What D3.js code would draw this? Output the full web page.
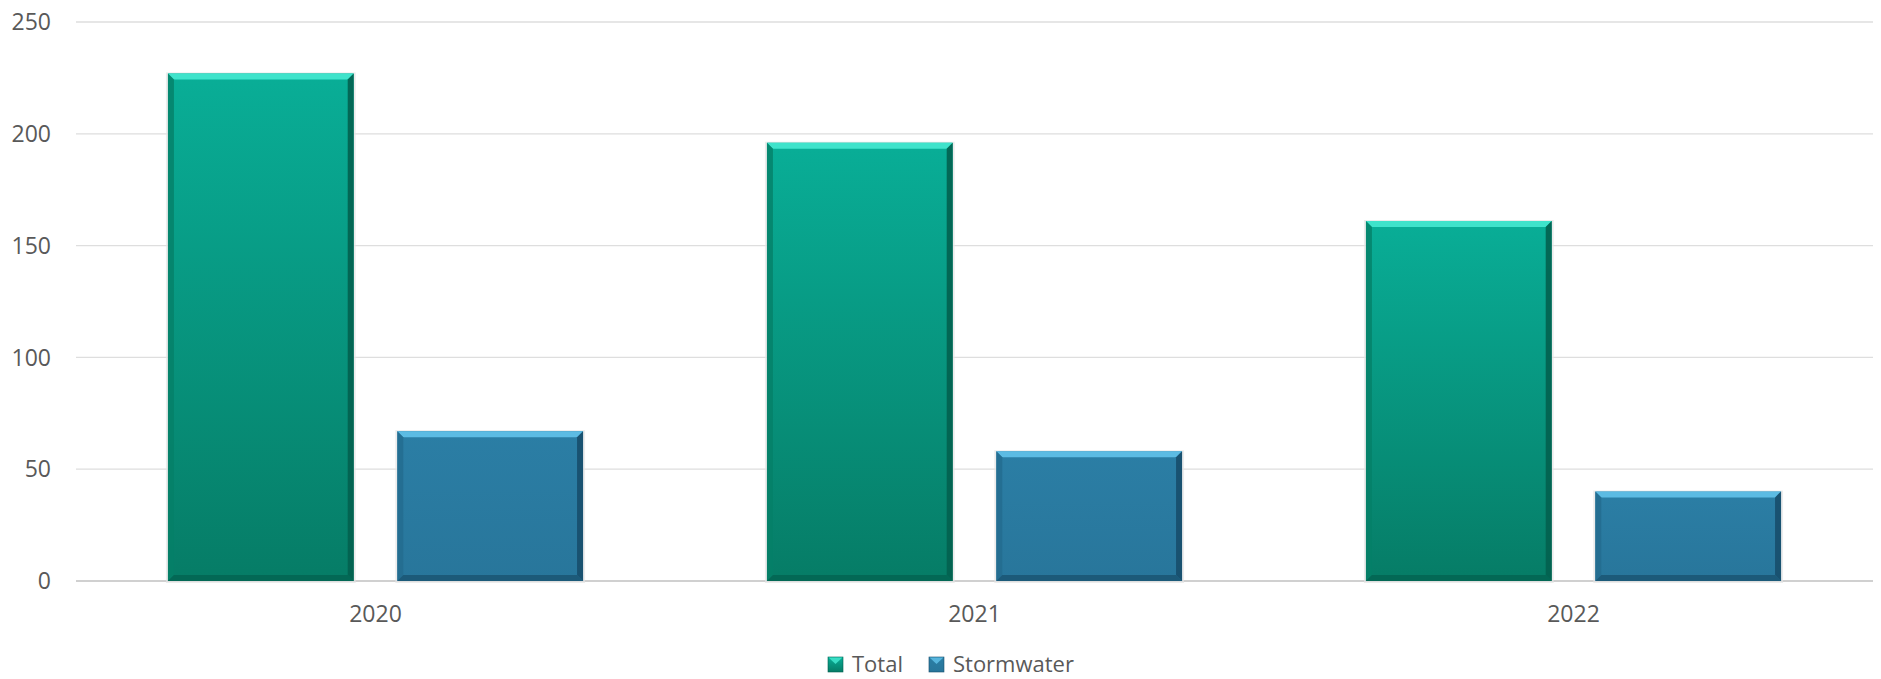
<!DOCTYPE html>
<html>
<head>
<meta charset="utf-8">
<script src="https://cdn.jsdelivr.net/npm/d3@7"></script>
<style>
  body { margin: 0; background: #fff; }
  text { font-family: "Open Sans", "Noto Sans", sans-serif; fill: #595959; }
</style>
</head>
<body>
<div id="chart"></div>
<script>
// data
const years = ["2020", "2021", "2022"];
const seriesNames = ["Total", "Stormwater"];
const totalValues = [227, 196, 161];
const stormwaterValues = [67, 58, 40];
const yTicks = [0, 50, 100, 150, 200, 250];

const WIDTH = 1881, HEIGHT = 679;
const MARGIN = { LEFT: 76, RIGHT: 8, TOP: 22, BOTTOM: 98 };

const rows = years.map((yr, i) => ({ year: yr, values: [totalValues[i], stormwaterValues[i]] }));

// colors for each series: gradient top/bottom, bevel light, bevel dark
const palette = {
    Total: { top: "#09ae97", bottom: "#067c66", light: "#3fe3cb", side: "#058068", dark: "#03604f" },
    Stormwater: { top: "#2b7ea5", bottom: "#28769b", light: "#5cbbe3", side: "#236b8f", dark: "#174e6b" }
};

const svg = d3.select("#chart").append("svg")
    .attr("width", WIDTH)
    .attr("height", HEIGHT);

const defs = svg.append("defs");
seriesNames.forEach(s => {
    const g = defs.append("linearGradient")
        .attr("id", "grad-" + s)
        .attr("x1", 0).attr("y1", 0).attr("x2", 0).attr("y2", 1);
    g.append("stop").attr("offset", "0%").attr("stop-color", palette[s].top);
    g.append("stop").attr("offset", "100%").attr("stop-color", palette[s].bottom);
});

const x0 = d3.scaleBand()
    .domain(years)
    .range([MARGIN.LEFT, WIDTH - MARGIN.RIGHT])
    .paddingInner(0.307)
    .paddingOuter(0.1535);

const x1 = d3.scaleBand()
    .domain(seriesNames)
    .range([0, x0.bandwidth()])
    .paddingInner(0.19)
    .paddingOuter(0);

const y = d3.scaleLinear()
    .domain([0, 250])
    .range([HEIGHT - MARGIN.BOTTOM, MARGIN.TOP]);

// gridlines
svg.append("g").selectAll("line")
    .data(yTicks)
    .enter().append("line")
    .attr("x1", MARGIN.LEFT)
    .attr("x2", WIDTH - MARGIN.RIGHT)
    .attr("y1", d => y(d))
    .attr("y2", d => y(d))
    .attr("stroke", d => d === 0 ? "#d0d0d0" : "#dedede")
    .attr("stroke-width", d => d === 0 ? 1.8 : 1.3);

// y tick labels
svg.append("g").selectAll("text")
    .data(yTicks)
    .enter().append("text")
    .attr("x", 51)
    .attr("y", d => y(d))
    .attr("dy", "0.36em")
    .attr("text-anchor", "end")
    .style("font-size", "23px")
    .text(d => d);

// x labels
svg.append("g").selectAll("text")
    .data(years)
    .enter().append("text")
    .attr("x", d => x0(d) + x0.bandwidth() / 2)
    .attr("y", 622)
    .attr("text-anchor", "middle")
    .style("font-size", "23px")
    .text(d => d);

// beveled bar
function drawBar(g, s, bx, by, bw, bh) {
    const c = palette[s];
    const b = Math.min(6, bh / 2);
    g.append("rect")
        .attr("x", bx - 2).attr("y", by - 1)
        .attr("width", bw + 4).attr("height", bh + 3)
        .attr("fill", "#e4e4e4").attr("opacity", 0.7);
    g.append("rect")
        .attr("x", bx).attr("y", by)
        .attr("width", bw).attr("height", bh)
        .attr("fill", `url(#grad-${s})`);
    const poly = (pts, fill, op) => g.append("polygon")
        .attr("points", pts.map(p => p.join(",")).join(" "))
        .attr("fill", fill).attr("opacity", op);
    poly([[bx, by], [bx + bw, by], [bx + bw - b, by + b], [bx + b, by + b]], c.light, 1);
    poly([[bx, by], [bx + b, by + b], [bx + b, by + bh - b], [bx, by + bh]], c.side, 0.8);
    poly([[bx + bw, by], [bx + bw, by + bh], [bx + bw - b, by + bh - b], [bx + bw - b, by + b]], c.dark, 0.9);
    poly([[bx, by + bh], [bx + b, by + bh - b], [bx + bw - b, by + bh - b], [bx + bw, by + bh]], c.dark, 0.7);
}

const groups = svg.append("g").selectAll("g")
    .data(rows)
    .enter().append("g")
    .attr("transform", d => `translate(${x0(d.year)},0)`);

groups.each(function(d) {
    const g = d3.select(this);
    d.values.forEach((v, i) => {
        const s = seriesNames[i];
        drawBar(g, s, x1(s), y(v), x1.bandwidth(), y(0) - y(v));
    });
});

// legend
const legend = svg.append("g").attr("transform", "translate(828,657)");
let lx = 0;
seriesNames.forEach(s => {
    const c = palette[s];
    const item = legend.append("g").attr("transform", `translate(${lx},0)`);
    item.append("rect")
        .attr("width", 15).attr("height", 15)
        .attr("fill", `url(#grad-${s})`)
        .attr("stroke", c.dark).attr("stroke-width", 0.6);
    item.append("polygon")
        .attr("points", "0.5,0.5 14.5,0.5 7.5,7")
        .attr("fill", c.light).attr("opacity", 0.9);
    const t = item.append("text")
        .attr("x", 24)
        .attr("y", 15)
        .style("font-size", "22px")
        .text(s);
    lx += 24 + t.node().getComputedTextLength() + 26;
});
</script>
</body>
</html>
